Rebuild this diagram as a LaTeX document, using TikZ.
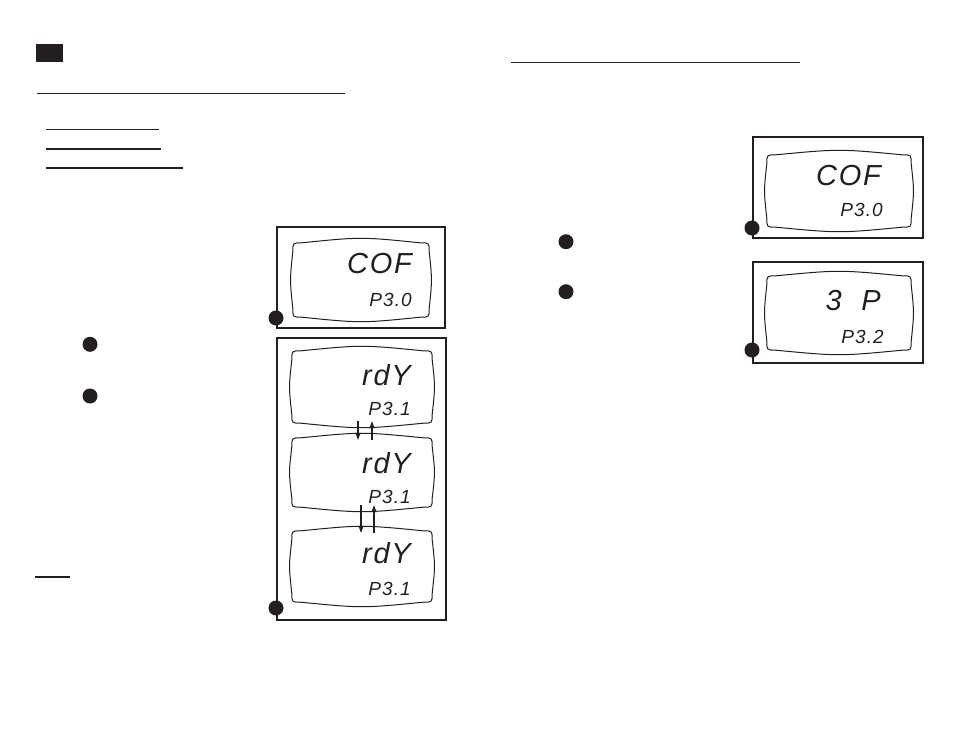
\documentclass[tikz,border=0pt]{standalone}
\usepackage{fontspec}
\usepackage{tikz}
\usetikzlibrary{arrows.meta,calc,positioning}
\newfontfamily\lcdfont{Liberation Sans}[LetterSpace=6]
\definecolor{ink}{RGB}{35,31,32}
\tikzset{
  rule/.style={draw=ink, line width=1.6pt},
  framebox/.style={draw=ink, line width=2pt, inner sep=0pt},
  screen/.style={inner sep=0pt},
  lcdline/.style={draw=ink, line width=1pt},
  stepdot/.style={circle, fill=ink, inner sep=0pt, minimum size=15pt},
  bigseg/.style={font=\lcdfont\itshape\fontsize{29}{29}\selectfont,
    text=ink, anchor=base east, inner sep=0pt},
  smallseg/.style={font=\lcdfont\itshape\fontsize{19}{19}\selectfont,
    text=ink, anchor=base east, inner sep=0pt},
  flip/.style={-{Latex[length=8pt,width=6pt]}, draw=ink, line width=2pt,
    shorten <=-5pt, shorten >=-6pt}
}
% barrel shaped LCD outline round a screen node
\newcommand\lcdoutline[1]{%
  \draw[lcdline] let \p1=(#1.north west), \p2=(#1.south east), \p3=(#1.center) in
    (\x1+10pt,\y1-3pt) .. controls (\x3,\y1+3pt) .. (\x2-10pt,\y1-3pt)
    .. controls (\x2-1pt,\y1-3pt) .. (\x2-1pt,\y1-12pt)
    .. controls (\x2+2pt,\y3) .. (\x2-1pt,\y2+12pt)
    .. controls (\x2-1pt,\y2+3pt) .. (\x2-10pt,\y2+3pt)
    .. controls (\x3,\y2-3pt) .. (\x1+10pt,\y2+3pt)
    .. controls (\x1+1pt,\y2+3pt) .. (\x1+1pt,\y2+12pt)
    .. controls (\x1-2pt,\y3) .. (\x1+1pt,\y1-12pt)
    .. controls (\x1+1pt,\y1-3pt) .. (\x1+10pt,\y1-3pt);
}

\begin{document}
\begin{tikzpicture}[x=1pt,y=-1pt]
  \useasboundingbox (0,0) rectangle (954,737);

  % left column
  \node[fill=ink, minimum width=27pt, minimum height=18pt, inner sep=0pt]
    (tab) at (49.5,53) {};
  \draw[rule] (37,93.3) -- (345,93.3);
  \draw[rule] (46,129.3) -- (159,129.3);
  \draw[rule] (46,149) -- (161,149);
  \draw[rule] (46,167.7) -- (183,167.7);
  \draw[rule] (35,576.7) -- (70,576.7);
  \node[stepdot] (keyA) at (90,344.3) {};
  \node[stepdot] (keyB) at (90,396) {};

  % first frame
  \node[framebox, minimum width=168pt, minimum height=101pt]
    (frameA) at (361,277.5) {};
  \node[screen, minimum width=138pt, minimum height=80pt]
    (lcdA) at (361,280) {};
  \lcdoutline{lcdA}
  \node[bigseg] (cofA) at (412,273) {COF};
  \node[smallseg] (parA) at (412,306) {P3.0};
  \node[stepdot] (dotA) at ([yshift=11pt]frameA.south west) {};

  % second frame, three screens
  \node[framebox, minimum width=169pt, minimum height=282pt]
    (frameB) at (361.5,479) {};
  \node[screen, minimum width=142pt, minimum height=78pt]
    (lcdB1) at (362,387) {};
  \node[screen, minimum width=142pt, minimum height=75pt]
    (lcdB2) at (362,472.5) {};
  \node[screen, minimum width=142pt, minimum height=77pt]
    (lcdB3) at (362,566.5) {};
  \lcdoutline{lcdB1}
  \lcdoutline{lcdB2}
  \lcdoutline{lcdB3}
  \node[bigseg] (rdyB1) at (411,385) {rdY};
  \node[smallseg] (parB1) at (411,415) {P3.1};
  \node[bigseg] (rdyB2) at (411,473) {rdY};
  \node[smallseg] (parB2) at (411,503) {P3.1};
  \node[bigseg] (rdyB3) at (411,563) {rdY};
  \node[smallseg] (parB3) at (411,595) {P3.1};
  \draw[flip] ([xshift=-4pt]lcdB1.south) -- ([xshift=-4pt]lcdB2.north);
  \draw[flip] ([xshift=10pt]lcdB2.north) -- ([xshift=10pt]lcdB1.south);
  \draw[flip] ([xshift=-1pt]lcdB2.south) -- ([xshift=-1pt]lcdB3.north);
  \draw[flip] ([xshift=12pt]lcdB3.north) -- ([xshift=12pt]lcdB2.south);
  \node[stepdot] (dotB) at ([yshift=13pt]frameB.south west) {};

  % right column
  \draw[rule] (511,62.3) -- (800,62.3);
  \node[stepdot] (keyC) at (566,241.7) {};
  \node[stepdot] (keyD) at (566,291.7) {};

  \node[framebox, minimum width=170pt, minimum height=101pt]
    (frameC) at (838,187.5) {};
  \node[screen, minimum width=146pt, minimum height=78pt]
    (lcdC) at (839,191) {};
  \lcdoutline{lcdC}
  \node[bigseg] (cofC) at (881,185) {COF};
  \node[smallseg] (parC) at (883,216) {P3.0};
  \node[stepdot] (dotC) at ([yshift=11pt]frameC.south west) {};

  \node[framebox, minimum width=170pt, minimum height=101pt]
    (frameD) at (838,312.5) {};
  \node[screen, minimum width=146pt, minimum height=80pt]
    (lcdD) at (839,313) {};
  \lcdoutline{lcdD}
  \node[bigseg] (threeD) at (881,310) {3\ \ P};
  \node[smallseg] (parD) at (884,343) {P3.2};
  \node[stepdot] (dotD) at ([yshift=14pt]frameD.south west) {};
\end{tikzpicture}
\end{document}
